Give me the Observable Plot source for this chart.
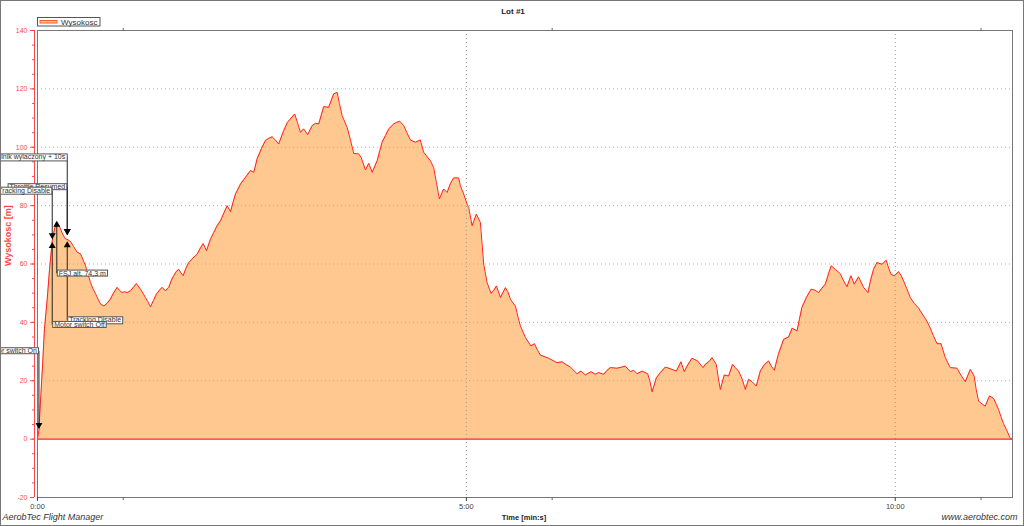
<!DOCTYPE html>
<html><head><meta charset="utf-8">
<script src="https://cdn.jsdelivr.net/npm/d3@7"></script>
<script src="https://cdn.jsdelivr.net/npm/@observablehq/plot@0.6"></script>
<style>
html,body{margin:0;padding:0;background:#fff;}
#chart{width:1024px;height:526px;position:relative;overflow:hidden;}
svg{display:block;}
</style></head><body><div id="chart"></div>
<script>
// ---- data (time in seconds, altitude in metres) ----
const timeSec = [0,1,2,3.5,4.9,6.8,8.4,10.3,11.9,13.3,14.7,16.1,17.8,19.6,21.3,23.1,25.2,27.8,30.1,31.8,33.6,35.3,37.1,38.8,40.6,42.3,44.1,46.4,48.6,51,53.1,55.7,57.3,59.2,60.8,62.7,65,67.1,69.2,72,73.8,75.5,77.3,79,81.1,83.2,85.3,87.2,89.5,91.8,93.7,95.3,97.2,98.8,100.3,101.9,103.8,105.8,108.7,111.7,114,115.9,118.2,121,123.3,125.5,128,130.4,132.7,135,136.7,138.5,142,145.5,149,151.3,153.6,156.6,159.4,161.5,164.1,166.4,168.7,172.2,174.8,176.9,179.9,181.8,183.9,186.2,189,192.1,194.4,196.7,200.2,203.7,207.2,209.6,211.2,213.1,216.6,218.9,221.2,224.7,226.4,229.4,231.7,234.1,237.6,241,243.4,245.7,249.2,251,253.4,256.2,258.4,260.8,264.3,267.8,270.1,274.8,277.1,279,281.1,284.1,286.5,288.8,291.1,294.6,295.8,298.1,300.5,301.6,304,307,309.8,312.1,314.5,317.3,319.2,321,323.8,327.3,329,330.8,334.3,336,337.8,341.3,345.2,347.6,349.7,351.8,357.6,363.4,366.9,369.9,372.7,377.4,380.2,383.2,387.2,390.2,392.5,396,398.3,400.7,405.4,411.2,414.7,417,419.4,422.9,426.8,428.3,429.9,432.9,435.7,439.2,443.8,446.9,450.1,452.4,454.3,457.8,461.7,465.5,467.1,470.1,471.8,474.8,476.2,477.6,480.4,483.4,486.2,488.1,490.4,493,495.1,497.4,499.8,502.8,505.6,508.4,511.4,513.3,515.4,518.2,521.9,525.4,527.8,531.3,532.9,534.7,537.8,541.2,544,546.4,548.3,551.1,553.2,555.2,558,561.5,563.6,566.2,569,571.3,574.3,577.8,580.9,582.5,584.8,587.2,590.7,593.7,595.1,597,599.3,602.3,604.2,605.8,608.1,610.5,613.3,616.3,619.8,622.1,624.5,626.6,629.2,632,635,638.5,643.2,645.8,649,652.5,655.2,656.6,658.3,660.8,662.9,665.9,668.7,670.6,672.2,674.1,675.7,678,680.4,681.5];
const altitude = [0,3,12,25,38,48,58,68,72,74.3,73.5,72,70,68.6,68.3,67.7,66,64,63.5,61.5,59.4,56.5,53.6,51.5,49.8,48,46.3,45.6,46.5,48,50,52,51,50.2,50.5,50.2,50.8,52,53.3,51.4,50,48.5,47,45.3,47.5,49.7,51,52,50.8,52,54.5,56,57.5,58.2,57,56,58.5,60.5,62,63.4,65.5,67,64.5,68.5,70.8,73,74.8,77.5,80,77.9,81,84,87.4,89.7,92,91.4,96,99.5,102.3,103,103.6,102.5,101.1,105.7,108.5,109.7,111.4,108.5,105.1,106.3,104.3,107.4,108.2,108,113.9,113.7,118.3,118.8,115,110.8,106.8,102.5,97.9,97.7,96.5,92.2,94.5,91.4,95.4,101.7,104,106.3,108,108.5,108.9,107.4,105,102.5,101.7,102.5,98.3,95.4,93.1,88,82.3,85.7,84.5,87.5,89.5,89.5,86.8,84,80.5,79.4,73.1,77.1,74.2,60,53.6,49.9,51,52.5,48.5,51.9,50.5,47.9,45.6,42,38.8,34.8,31.9,32.7,30.5,28.8,27.7,26.2,26.5,25.5,24.7,22.4,23.3,22,23.1,22.2,22.8,22.2,23.5,24.5,24.3,25,23.1,23.6,22.4,23.3,22.4,20,16.2,21,22.8,24.7,23.9,23.3,26.5,23.1,25,27.7,26.8,24.5,25.6,26.8,27.9,25.6,21,17,22,21.6,25.6,24.5,23.3,20.5,17,20.5,19.7,18.2,23.3,25.5,26.8,25,23.6,29,34.2,35,38,37.1,41,45.1,48.5,51.4,51,50.2,51.5,53.1,56.5,59.4,58.2,56.7,54.5,52.2,56,53.1,55.6,52,50.2,54,58.2,60.5,59.9,61.3,59,56.5,55.9,57.4,56,54.2,51.5,48.5,46.5,44.9,42.2,40.5,38,35.5,32.7,32.7,27.9,24.5,24.3,22,19.7,23.9,21.6,17,13,12,11.3,14.8,14,12,10.2,7.5,5.3,3,0.3,0];
const seriesName = "Wysokosc";
const chartTitle = "Lot #1";
const yTitle = "Wysokosc [m]";
const xTitle = "Time [min:s]";
const xTickValues = [0, 300, 600];
const xTickLabels = ["0:00", "5:00", "10:00"];
const xMinorTicks = [60, 360, 660];
const yTickValues = [-20, 0, 20, 40, 60, 80, 100, 120, 140];
const yMinorTicks = d3.range(-20, 141, 5);
const yGridValues = [20, 40, 60, 80, 100, 120];
const xGridValues = [300, 600];
// annotations: label, event time (s), altitude at arrow, altitude of label box, side, arrow direction
const annLabels = ["Throttle Resumed", "Silnik wylaczony + 10s", "Tracking Disable", "Motor switch On", "Tracking Disable", "Motor switch Off", "FSJ alt. 74,3 m"];
const annTime   = [20.8, 20.8, 10.3, 1, 20.8, 10.3, 13.5];
const annValue  = [70.4, 70.4, 69, 4, 67.3, 67, 74.3];
const annLabelValue = [86.4, 96.6, 85.2, 30.2, 40.8, 39.2, 56.8];
const annSide = ["end", "end", "end", "end", "start", "start", "start"];
const annDir  = ["down", "down", "down", "down", "up", "up", "up"];

const data = timeSec.map((t, i) => ({t, v: altitude[i]}));
const ann = annLabels.map((label, i) => ({label, t: annTime[i], v: annValue[i], lv: annLabelValue[i], side: annSide[i], dir: annDir[i]}));

const RED = "#ff2020";
const AXRED = "#ff4848";
const FONT = "'Liberation Sans', Arial, sans-serif";

const plot = Plot.plot({
  width: 1024, height: 526,
  marginLeft: 37, marginRight: 12, marginTop: 30, marginBottom: 29,
  style: {fontFamily: FONT, background: "#fff", overflow: "visible"},
  x: {domain: [0, 682]},
  y: {domain: [-20, 140]},
  marks: [
    Plot.areaY(data, {x: "t", y: "v", fill: "#ffc891"}),
    Plot.ruleY(yGridValues, {stroke: "#ff8a8a", strokeDasharray: "1,3"}),
    Plot.ruleX(xGridValues, {stroke: "#9a9a9a", strokeDasharray: "1,3"}),
    Plot.ruleY([0], {stroke: RED, strokeWidth: 1.2}),
    Plot.lineY(data, {x: "t", y: "v", stroke: RED, strokeWidth: 1}),
    Plot.frame({stroke: "#777"}),
    // y axis (red, offset from frame)
    Plot.ruleX([0], {y1: -20, y2: 140, stroke: AXRED, dx: -3}),
    Plot.axisY({ticks: yMinorTicks, tickSize: 2, tickFormat: () => "", color: AXRED, dx: -3, label: null}),
    Plot.axisY({ticks: yTickValues, tickSize: 4, tickPadding: 3, tickFormat: d => String(d), color: AXRED, fontSize: 7, dx: -3, label: null}),
    // x axis
    Plot.axisX({ticks: xTickValues, tickSize: 4, tickPadding: 2, tickFormat: d => xTickLabels[xTickValues.indexOf(d)], color: "#444", fontSize: 7.5, label: null}),
    Plot.axisX({ticks: xMinorTicks, tickSize: 3, tickFormat: () => "", color: "#666", label: null}),
    Plot.axisX({ticks: xMinorTicks, anchor: "top", tickSize: 3, tickFormat: () => "", color: "#666", label: null}),
    // annotations
    Plot.link(ann, {x1: "t", x2: "t", y1: "lv", y2: "v", stroke: "#222", strokeWidth: 1}),
    Plot.dot(ann.filter(d => d.dir === "down"), {x: "t", y: "v", symbol: "triangle", r: 2.6, fill: "#000", rotate: 180, dy: -2.5}),
    Plot.dot(ann.filter(d => d.dir === "up"), {x: "t", y: "v", symbol: "triangle", r: 2.6, fill: "#000", dy: 2.5}),
    Plot.text(ann.filter(d => d.side === "end"), {x: "t", y: "lv", text: "label", textAnchor: "end", dx: -2, fontSize: 7, fill: "#333", lineAnchor: "middle", ariaDescription: "annot"}),
    Plot.text(ann.filter(d => d.side === "start"), {x: "t", y: "lv", text: "label", textAnchor: "start", dx: 2, fontSize: 7, fill: "#333", lineAnchor: "middle", ariaDescription: "annot"}),
    // titles
    Plot.text([chartTitle], {frameAnchor: "top", dx: -12, dy: -22, fontSize: 8, fontWeight: "bold", fill: "#222"}),
    Plot.text([yTitle], {frameAnchor: "left", dx: -29, dy: 2, rotate: -90, fontSize: 9, fontWeight: "bold", fill: AXRED}),
    Plot.text([xTitle], {frameAnchor: "bottom", dx: -1, dy: 22, fontSize: 7.5, fontWeight: "bold", fill: "#222"}),
    Plot.text(["AerobTec Flight Manager"], {frameAnchor: "bottom-left", dx: -35, dy: 22, textAnchor: "start", fontSize: 9, fontStyle: "italic", fill: "#333"}),
    Plot.text(["www.aerobtec.com"], {frameAnchor: "bottom-right", dx: 5, dy: 22, textAnchor: "end", fontSize: 9, fontStyle: "italic", fill: "#333"})
  ]
});
document.getElementById("chart").appendChild(plot);

// boxes behind annotation labels
const svg = d3.select(plot);
svg.selectAll('g[aria-description="annot"] text').each(function() {
  const b = this.getBBox();
  const r = document.createElementNS("http://www.w3.org/2000/svg", "rect");
  r.setAttribute("x", b.x - 1.5);
  r.setAttribute("y", b.y + 0.5);
  r.setAttribute("width", b.width + 3);
  r.setAttribute("height", b.height - 1);
  r.setAttribute("fill", "#fff");
  r.setAttribute("stroke", "#555");
  r.setAttribute("stroke-width", "1");
  if (this.getAttribute("transform")) r.setAttribute("transform", this.getAttribute("transform"));
  this.parentNode.insertBefore(r, this);
});

// legend
const lg = svg.append("g").attr("text-anchor", "start");
lg.append("rect").attr("x", 37.5).attr("y", 17.5).attr("width", 62.5).attr("height", 8.5).attr("fill", "#fff").attr("stroke", "#555");
lg.append("rect").attr("x", 40).attr("y", 20.5).attr("width", 17).attr("height", 2.5).attr("fill", "#ffc891").attr("stroke", "#ff5a30").attr("stroke-width", 1);
lg.append("text").attr("x", 61).attr("y", 21.8).attr("dy", "0.35em").attr("text-anchor", "start").attr("font-size", 8).attr("fill", "#333").attr("font-family", FONT).text(seriesName);
// outer border
svg.append("rect").attr("x", 0.5).attr("y", 0.5).attr("width", 1023).attr("height", 525).attr("fill", "none").attr("stroke", "#777");
</script></body></html>
